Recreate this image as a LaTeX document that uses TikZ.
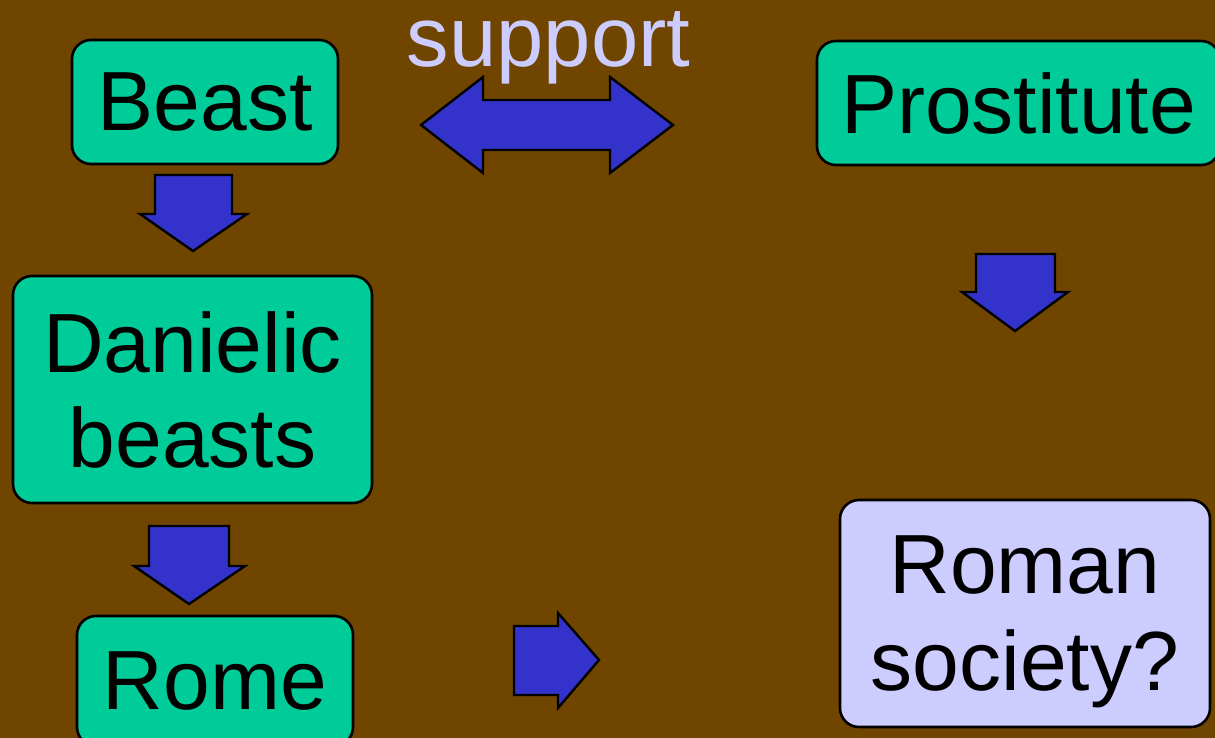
\documentclass[tikz,border=0pt]{standalone}
\usepackage{fontspec}
\setmainfont{Liberation Sans}
\definecolor{bgbrown}{RGB}{112,69,0}
\definecolor{boxgreen}{RGB}{0,204,153}
\definecolor{arrowblue}{RGB}{51,51,204}
\definecolor{lav}{RGB}{204,204,255}
\begin{document}
\begin{tikzpicture}[x=1pt,y=-1pt,
  box/.style={draw=black, line width=2.6pt, rounded corners=19pt, fill=boxgreen,
    font=\fontsize{84}{95}\selectfont, align=center, inner sep=0pt, text depth=0pt},
  blockarrow/.style={draw=black, line width=2.4pt, fill=arrowblue, line join=miter}]
\useasboundingbox (0,0) rectangle (1215,738);
\clip (0,0) rectangle (1215,738);
\fill[bgbrown] (0,0) rectangle (1215,738);

\node[box, minimum width=266pt, minimum height=124pt] (beast) at (205,102) {Beast};
\node[box, minimum width=403pt, minimum height=124pt] (prost) at (1018.5,103) {Prostitute};
\node[box, minimum width=359pt, minimum height=227pt] (dan) at (192.5,389.5) {Danielic\\beasts};
\node[box, minimum width=276pt, minimum height=130pt] (rome) at (215,681) {Rome};
\node[box, fill=lav, font=\fontsize{84}{97}\selectfont, minimum width=370pt, minimum height=227pt] (soc) at (1025,613.5) {Roman\\society?};

\node[text=lav, font=\fontsize{85}{95}\selectfont, anchor=base, inner sep=0pt] (sup) at (548.5,67) {support};

% Beast -> Danielic
\draw[blockarrow] (155,175) -- (232,175) -- (232,214) -- (247,214) -- (193,251) -- (140,214) -- (155,214) -- cycle;
% Danielic -> Rome
\draw[blockarrow] (149,526) -- (229,526) -- (229,566) -- (245,566) -- (189,604) -- (134,566) -- (149,566) -- cycle;
% Rome -> right
\draw[blockarrow] (514,626) -- (558,626) -- (558,613) -- (599,660) -- (558,708) -- (558,695) -- (514,695) -- cycle;
% Prostitute -> down
\draw[blockarrow] (976,254) -- (1055,254) -- (1055,292) -- (1068,292) -- (1015,331) -- (962,292) -- (976,292) -- cycle;
% double arrow (support)
\draw[blockarrow] (421,125) -- (483,77) -- (483,100) -- (610,100) -- (610,77) -- (673,125) -- (610,173) -- (610,150) -- (483,150) -- (483,173) -- cycle;
\end{tikzpicture}
\end{document}
